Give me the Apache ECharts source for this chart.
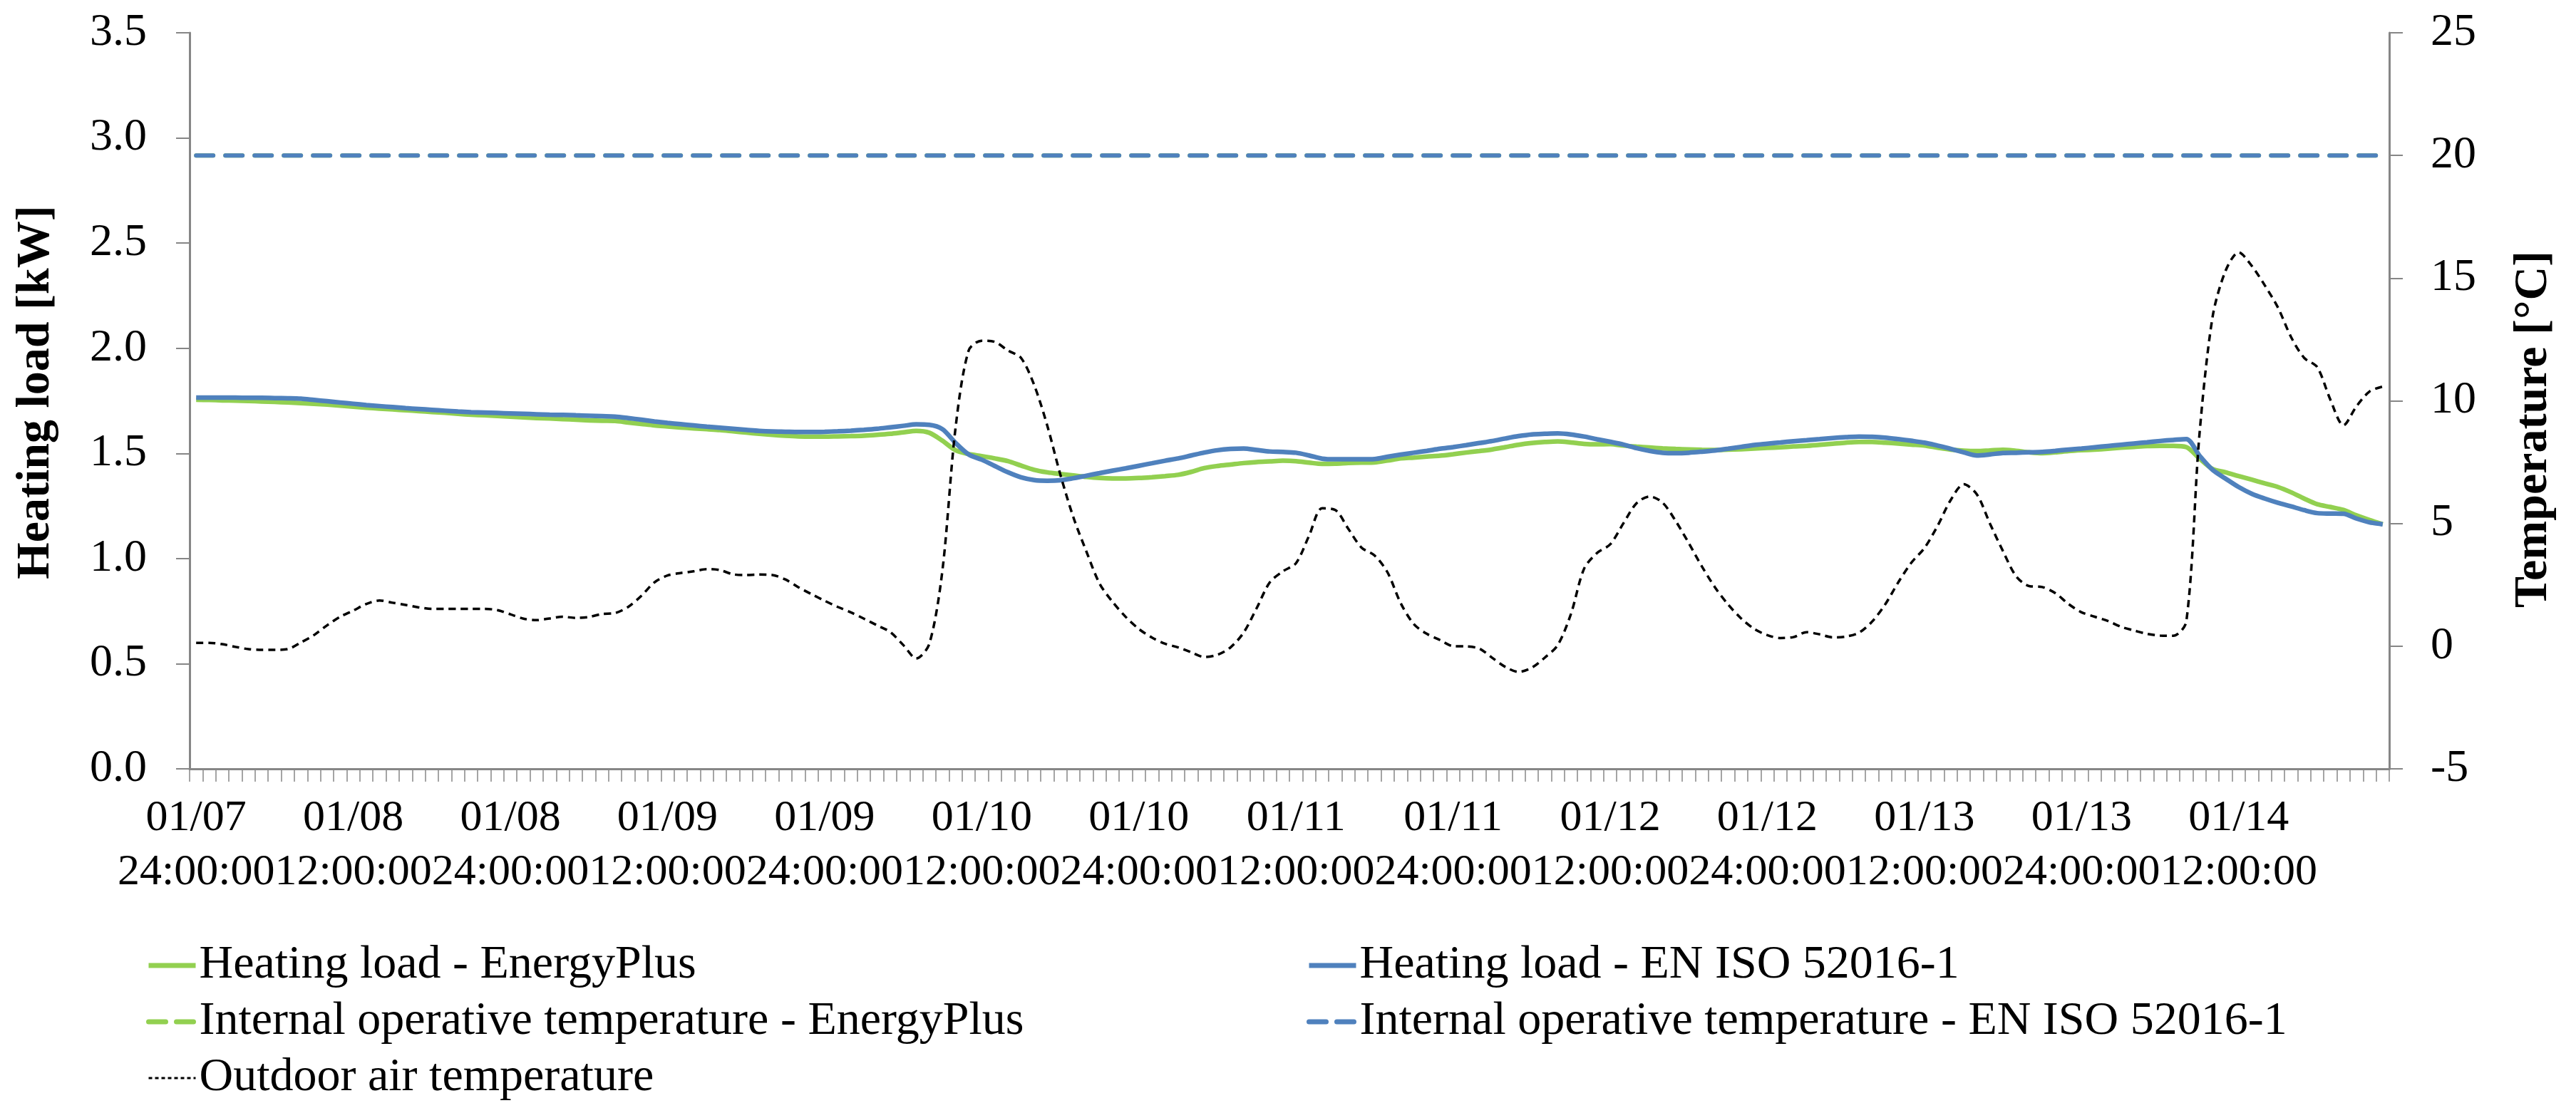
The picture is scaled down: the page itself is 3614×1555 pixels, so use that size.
<!DOCTYPE html>
<html>
<head>
<meta charset="utf-8">
<script src="https://cdn.jsdelivr.net/npm/echarts@6/dist/echarts.min.js"></script>
<style>
html,body{margin:0;padding:0;background:#fff;}
#chart{width:3614px;height:1555px;}
</style>
</head>
<body>
<div id="chart"></div>
<script>
// Hourly time steps, first step shown as "01/07 24:00:00"
const xTickLabels = [
  "01/07\n24:00:00","01/08\n12:00:00","01/08\n24:00:00","01/09\n12:00:00",
  "01/09\n24:00:00","01/10\n12:00:00","01/10\n24:00:00","01/11\n12:00:00",
  "01/11\n24:00:00","01/12\n12:00:00","01/12\n24:00:00","01/13\n12:00:00",
  "01/13\n24:00:00","01/14\n12:00:00"
];
const leftTicks = { min: 0, max: 3.5, interval: 0.5 };
const rightTicks = { min: -5, max: 25, interval: 5 };

const loadEnergyPlus = [
  1.755,1.754,1.752,1.751,1.749,1.747,1.745,1.742,1.739,1.736,1.732,1.727,
  1.722,1.717,1.713,1.709,1.705,1.701,1.697,1.693,1.688,1.684,1.681,1.678,
  1.675,1.671,1.668,1.666,1.663,1.660,1.657,1.655,1.654,1.647,1.640,1.633,
  1.628,1.623,1.619,1.615,1.611,1.605,1.599,1.593,1.588,1.584,1.581,1.580,
  1.580,1.581,1.582,1.584,1.588,1.593,1.600,1.607,1.598,1.560,1.515,1.497,
  1.487,1.476,1.463,1.442,1.422,1.410,1.402,1.395,1.388,1.383,1.381,1.381,
  1.383,1.387,1.392,1.398,1.412,1.430,1.440,1.447,1.454,1.459,1.462,1.465,
  1.463,1.456,1.450,1.451,1.454,1.456,1.457,1.466,1.476,1.480,1.485,1.489,
  1.496,1.504,1.511,1.519,1.530,1.541,1.549,1.554,1.557,1.552,1.545,1.543,
  1.544,1.537,1.532,1.528,1.524,1.521,1.519,1.517,1.516,1.518,1.520,1.523,
  1.526,1.529,1.533,1.536,1.541,1.546,1.551,1.554,1.554,1.551,1.547,1.542,
  1.537,1.527,1.518,1.513,1.511,1.514,1.517,1.512,1.505,1.501,1.505,1.511,
  1.515,1.518,1.522,1.527,1.531,1.535,1.536,1.536,1.530,1.476,1.426,1.410,
  1.392,1.375,1.357,1.340,1.315,1.285,1.258,1.245,1.231,1.205,1.183,1.163
];
const loadISO = [
  1.765,1.765,1.765,1.765,1.764,1.764,1.763,1.762,1.760,1.754,1.748,1.742,
  1.736,1.730,1.725,1.720,1.715,1.711,1.707,1.703,1.699,1.696,1.694,1.692,
  1.690,1.688,1.686,1.684,1.683,1.681,1.679,1.677,1.675,1.668,1.660,1.652,
  1.645,1.639,1.633,1.627,1.622,1.617,1.612,1.607,1.604,1.603,1.602,1.602,
  1.603,1.605,1.608,1.612,1.617,1.624,1.631,1.638,1.636,1.615,1.550,1.495,
  1.470,1.440,1.410,1.386,1.373,1.370,1.372,1.382,1.394,1.406,1.418,1.429,
  1.441,1.453,1.465,1.476,1.490,1.504,1.515,1.521,1.523,1.516,1.509,1.507,
  1.503,1.490,1.475,1.472,1.472,1.472,1.473,1.484,1.494,1.503,1.512,1.522,
  1.530,1.539,1.549,1.559,1.571,1.582,1.590,1.593,1.595,1.590,1.580,1.567,
  1.555,1.542,1.525,1.512,1.503,1.501,1.503,1.508,1.514,1.522,1.531,1.540,
  1.546,1.552,1.558,1.563,1.568,1.573,1.577,1.580,1.579,1.575,1.568,1.560,
  1.551,1.537,1.522,1.505,1.490,1.495,1.502,1.503,1.505,1.507,1.512,1.518,
  1.523,1.529,1.535,1.541,1.547,1.553,1.559,1.564,1.568,1.490,1.422,1.380,
  1.340,1.308,1.285,1.265,1.248,1.230,1.216,1.214,1.213,1.190,1.172,1.163
];
const opTempEnergyPlus = [
  20,20,20,20,20,20,20,20,20,20,20,20, 20,20,20,20,20,20,20,20,20,20,20,20,
  20,20,20,20,20,20,20,20,20,20,20,20, 20,20,20,20,20,20,20,20,20,20,20,20,
  20,20,20,20,20,20,20,20,20,20,20,20, 20,20,20,20,20,20,20,20,20,20,20,20,
  20,20,20,20,20,20,20,20,20,20,20,20, 20,20,20,20,20,20,20,20,20,20,20,20,
  20,20,20,20,20,20,20,20,20,20,20,20, 20,20,20,20,20,20,20,20,20,20,20,20,
  20,20,20,20,20,20,20,20,20,20,20,20, 20,20,20,20,20,20,20,20,20,20,20,20,
  20,20,20,20,20,20,20,20,20,20,20,20, 20,20,20,20,20,20,20,20,20,20,20,20
];
const opTempISO = [
  20,20,20,20,20,20,20,20,20,20,20,20, 20,20,20,20,20,20,20,20,20,20,20,20,
  20,20,20,20,20,20,20,20,20,20,20,20, 20,20,20,20,20,20,20,20,20,20,20,20,
  20,20,20,20,20,20,20,20,20,20,20,20, 20,20,20,20,20,20,20,20,20,20,20,20,
  20,20,20,20,20,20,20,20,20,20,20,20, 20,20,20,20,20,20,20,20,20,20,20,20,
  20,20,20,20,20,20,20,20,20,20,20,20, 20,20,20,20,20,20,20,20,20,20,20,20,
  20,20,20,20,20,20,20,20,20,20,20,20, 20,20,20,20,20,20,20,20,20,20,20,20,
  20,20,20,20,20,20,20,20,20,20,20,20, 20,20,20,20,20,20,20,20,20,20,20,20
];
const outdoorTemp = [
  0.13,0.13,0.08,-0.03,-0.12,-0.15,-0.15,-0.12,0.15,0.45,0.85,1.2,
  1.45,1.72,1.86,1.77,1.68,1.58,1.52,1.52,1.52,1.52,1.52,1.47,
  1.3,1.12,1.06,1.13,1.2,1.15,1.19,1.31,1.35,1.6,2.05,2.6,
  2.88,2.98,3.05,3.14,3.1,2.93,2.9,2.92,2.9,2.72,2.4,2.12,
  1.85,1.6,1.38,1.12,0.85,0.58,0.05,-0.5,0.1,3.1,8.9,12.05,
  12.45,12.4,12.05,11.75,10.65,9.0,7.0,5.25,3.85,2.55,1.8,1.19,
  0.7,0.35,0.1,-0.05,-0.25,-0.44,-0.35,-0.05,0.55,1.55,2.6,3.05,
  3.38,4.5,5.62,5.55,4.78,4.02,3.7,3.0,1.75,0.9,0.5,0.25,
  0.0,-0.01,-0.1,-0.48,-0.85,-1.05,-0.88,-0.47,0.05,1.31,3.15,3.8,
  4.15,5.0,5.82,6.1,5.85,5.1,4.2,3.25,2.4,1.7,1.13,0.7,
  0.45,0.33,0.37,0.57,0.48,0.36,0.39,0.55,1.0,1.7,2.6,3.4,
  4.0,4.9,5.95,6.6,6.19,5.0,3.87,2.85,2.45,2.41,2.16,1.72,
  1.38,1.2,1.03,0.79,0.64,0.5,0.43,0.42,1.0,8.6,13.4,15.3,
  16.05,15.5,14.7,13.8,12.6,11.75,11.37,10.05,9.0,9.78,10.38,10.58
];

// hourly category names
const hours = [];
for (let h = 0; h < loadISO.length; h++) {
  const day = 8 + Math.floor(h / 24);
  const hh = h % 24;
  hours.push('01/' + String(day).padStart(2, '0') + ' ' + String(hh).padStart(2, '0') + ':00:00');
}

const FONT = '"Liberation Serif", "Times New Roman", Times, "DejaVu Serif", serif';
const GREEN = '#92D050';
const BLUE = '#4F81BD';
const AXIS = '#868686';

const names = {
  hlEP: 'Heating load - EnergyPlus',
  hlISO: 'Heating load - EN ISO 52016-1',
  otEP: 'Internal operative temperature - EnergyPlus',
  otISO: 'Internal operative temperature - EN ISO 52016-1',
  out: 'Outdoor air temperature'
};

const chart = echarts.init(document.getElementById('chart'), null, { renderer: 'canvas' });

const legendText = { fontFamily: FONT, fontSize: 66, color: '#000', lineHeight: 66 };
const hiddenSym = { opacity: 0, borderWidth: 0 };

const yAxisCommon = {
  type: 'value',
  splitLine: { show: false },
  axisLine: { show: true, lineStyle: { color: AXIS, width: 3 } },
  axisTick: { show: true, inside: false, length: 19, lineStyle: { color: AXIS, width: 2 } },
  axisLabel: { fontFamily: FONT, fontSize: 64, color: '#000', margin: 60 },
  nameLocation: 'middle',
  nameRotate: 90,
  nameGap: 182,
  nameTextStyle: { fontFamily: FONT, fontSize: 66, fontWeight: 'bold', color: '#000' }
};

chart.setOption({
  animation: false,
  backgroundColor: '#ffffff',
  textStyle: { fontFamily: FONT },
  grid: { left: 266, right: 262, top: 46, bottom: 476, containLabel: false, outerBoundsMode: 'none' },
  legend: [
    {
      orient: 'vertical', left: 200, top: 1317, itemGap: 13,
      itemWidth: 66, itemHeight: 14, textStyle: legendText,
      data: [
        { name: names.hlEP, itemStyle: hiddenSym, lineStyle: { color: GREEN, width: 7, type: 'solid' } },
        { name: names.otEP, itemStyle: hiddenSym, lineStyle: { color: GREEN, width: 7, type: [24, 15] } },
        { name: names.out, itemStyle: hiddenSym, lineStyle: { color: '#000', width: 3, type: [5, 4] } }
      ]
    },
    {
      orient: 'vertical', left: 1828, top: 1317, itemGap: 13,
      itemWidth: 66, itemHeight: 14, textStyle: legendText,
      data: [
        { name: names.hlISO, itemStyle: hiddenSym, lineStyle: { color: BLUE, width: 7, type: 'solid' } },
        { name: names.otISO, itemStyle: hiddenSym, lineStyle: { color: BLUE, width: 7, type: [24, 15] } }
      ]
    }
  ],
  xAxis: {
    type: 'category',
    data: hours,
    boundaryGap: true,
    axisLine: { show: true, onZero: false, lineStyle: { color: AXIS, width: 3 } },
    axisTick: { show: true, interval: 0, length: 18, lineStyle: { color: AXIS, width: 1.5 } },
    axisLabel: {
      interval: 11,
      fontFamily: FONT, fontSize: 62, color: '#000', lineHeight: 76, margin: 32,
      formatter: function (v, i) { return xTickLabels[Math.round(i / 12)] || ''; }
    },
    splitLine: { show: false }
  },
  yAxis: [
    Object.assign({}, yAxisCommon, {
      name: 'Heating load [kW]', position: 'left',
      nameTextStyle: Object.assign({}, yAxisCommon.nameTextStyle, { padding: [0, 0, 0, 24] }),
      min: leftTicks.min, max: leftTicks.max, interval: leftTicks.interval,
      axisLabel: Object.assign({}, yAxisCommon.axisLabel, { formatter: function (v) { return v.toFixed(1); } })
    }),
    Object.assign({}, yAxisCommon, {
      name: 'Temperature [°C]', position: 'right', nameGap: 170,
      nameTextStyle: Object.assign({}, yAxisCommon.nameTextStyle, { padding: [0, 80, 0, 0] }),
      min: rightTicks.min, max: rightTicks.max, interval: rightTicks.interval,
      axisLabel: Object.assign({}, yAxisCommon.axisLabel, { margin: 58 })
    })
  ],
  series: [
    {
      name: names.hlEP, type: 'line', yAxisIndex: 0, data: loadEnergyPlus,
      showSymbol: false, symbol: 'none', smooth: 0.3,
      lineStyle: { color: GREEN, width: 6.5 }, itemStyle: { color: GREEN }
    },
    {
      name: names.hlISO, type: 'line', yAxisIndex: 0, data: loadISO,
      showSymbol: false, symbol: 'none', smooth: 0.3,
      lineStyle: { color: BLUE, width: 6.5 }, itemStyle: { color: BLUE }
    },
    {
      name: names.otEP, type: 'line', yAxisIndex: 1, data: opTempEnergyPlus,
      showSymbol: false, symbol: 'none',
      lineStyle: { color: GREEN, width: 6, type: [24, 17], cap: 'round' }, itemStyle: { color: GREEN }
    },
    {
      name: names.otISO, type: 'line', yAxisIndex: 1, data: opTempISO,
      showSymbol: false, symbol: 'none',
      lineStyle: { color: BLUE, width: 6, type: [24, 17], cap: 'round' }, itemStyle: { color: BLUE }
    },
    {
      name: names.out, type: 'line', yAxisIndex: 1, data: outdoorTemp,
      showSymbol: false, symbol: 'none', smooth: 0.3,
      lineStyle: { color: '#000', width: 3.5, type: [10, 7] }, itemStyle: { color: '#000' }
    }
  ]
});
</script>
</body>
</html>
